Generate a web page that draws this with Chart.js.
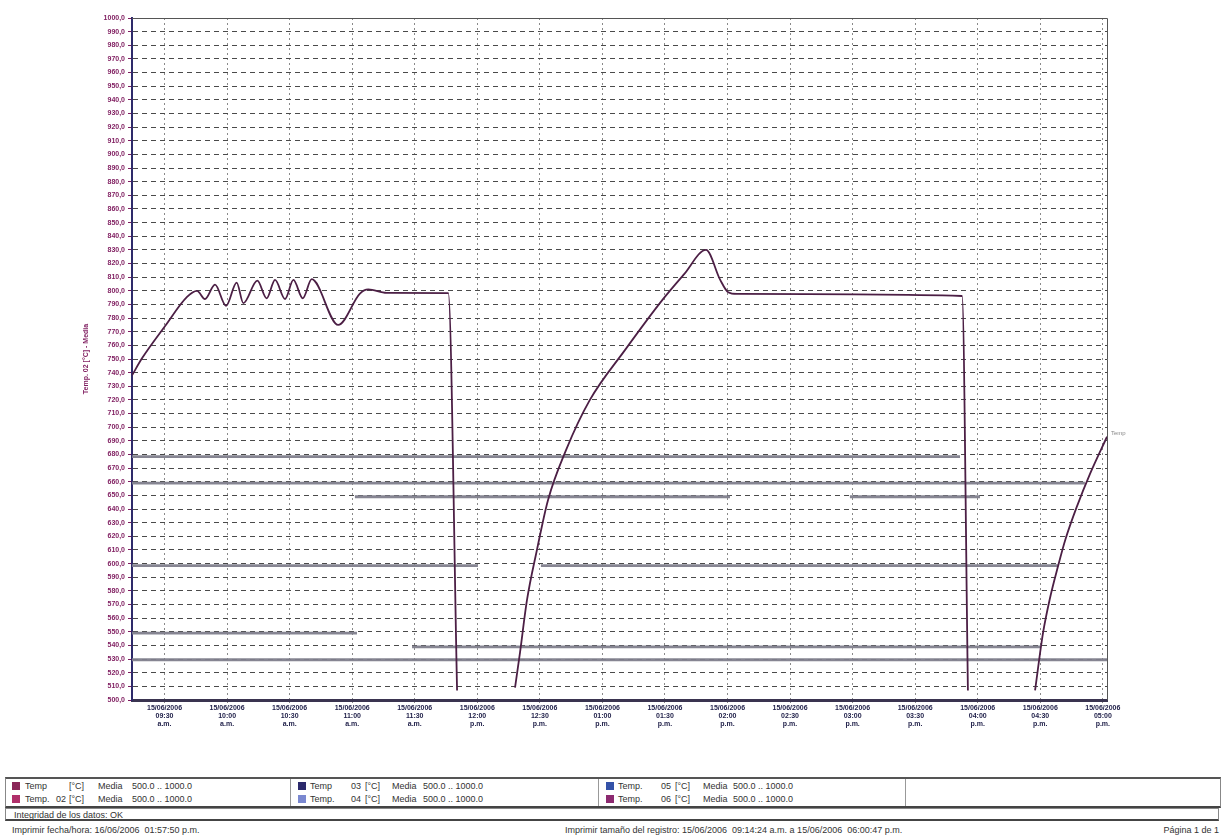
<!DOCTYPE html>
<html>
<head>
<meta charset="utf-8">
<title>Temp. 02 - Media</title>
<script src="https://cdn.jsdelivr.net/npm/chart.js@4.4.0/dist/chart.umd.min.js"></script>
<style>
body { margin: 0; background: #fff; font-family: "Liberation Sans", Arial, sans-serif; color: #333; }
#wrap { position: relative; width: 1225px; height: 839px; overflow: hidden; }
#chart { position: absolute; left: 0; top: 0; }
.box { position: absolute; left: 5px; width: 1214px; border: 1px solid #888; }
#legend { top: 777px; height: 27px; border-top: 2px solid #555; border-bottom: 2px solid #444; }
#integ { top: 808px; height: 13px; border-bottom: 2px solid #444; font-size: 9px; line-height: 13px; padding-left: 8px; box-sizing: border-box; }
.div { position: absolute; top: 0; height: 27px; border-left: 1px solid #999; }
.it { position: absolute; font-size: 9px; line-height: 12px; white-space: nowrap; }
.sq { position: absolute; width: 8px; height: 8px; }
.foot { position: absolute; top: 825px; font-size: 9px; white-space: nowrap; }
</style>
</head>
<body>
<div id="wrap">
  <canvas id="chart" width="1225" height="740"></canvas>
  <div id="legend" class="box"></div>
  <div id="integ" class="box">Integridad de los datos: OK</div>
  <div class="foot" style="left:12px">Imprimir fecha/hora: 16/06/2006&nbsp; 01:57:50 p.m.</div>
  <div class="foot" style="left:565px">Imprimir tamaño del registro: 15/06/2006&nbsp; 09:14:24 a.m. a 15/06/2006&nbsp; 06:00:47 p.m.</div>
  <div class="foot" style="right:6px">Página 1 de 1</div>
</div>

<script>
// Temp. 02 trace (time of day, °C); null = trace off the scale
const traceTimes = [
    '09:14:24', '09:19:12', '09:30:12', '09:40:48', '09:45:36', '09:49:24', '09:54:12', '09:59:30',
    '10:04:36', '10:07:48', '10:14:30', '10:19:00', '10:23:00', '10:27:48', '10:31:48', '10:36:18',
    '10:40:36', '10:53:18', '11:03:42', '11:07:42', '11:16:30', '11:46:06', '11:50:18',
    '12:00:00',
    '12:18:06', '12:20:30', '12:23:48', '12:28:36', '12:33:54', '12:42:30', '12:54:00', '13:10:48',
    '13:28:36', '13:39:06', '13:49:42', '13:56:30', '14:00:18', '14:04:36', '15:52:30', '15:55:18',
    '16:10:00',
    '16:27:30', '16:31:18', '16:34:42', '16:38:30', '16:41:54', '16:47:36', '16:53:54', '17:02:00'
];
const traceTemps = [
    738, 750.5, 774, 795.5, 800, 794, 804.5, 789,
    806, 791, 807.5, 794.5, 808, 794, 808, 794.5,
    808.5, 775, 798, 801, 798.5, 798.3, 507,
    null,
    509, 535, 573, 610, 646.5, 683, 720, 756.5,
    793, 812, 830, 808, 799, 797.7, 796.2, 507,
    null,
    507, 549, 575, 598, 617, 642, 666, 693
];

// flat grey traces of the other channels
const flatLevels = [678.5, 659, 649, 649, 598.5, 598.5, 549, 539, 529.5];
const flatFrom = ['09:14:24', '09:14:24', '11:01:18', '14:58:42', '09:14:24', '12:30:30', '09:14:24', '11:28:42', '09:14:24'];
const flatTo = ['15:51:30', '16:51:24', '14:01:12', '16:01:06', '12:00:18', '16:38:30', '11:02:18', '16:29:54', '17:02:00'];

// x axis
const axisStart = '09:14:24';
const axisEnd = '17:02:00';
const tickTimes = ['09:30', '10:00', '10:30', '11:00', '11:30', '12:00', '12:30', '13:00',
                   '13:30', '14:00', '14:30', '15:00', '15:30', '16:00', '16:30', '17:00'];
const tickClock = ['09:30', '10:00', '10:30', '11:00', '11:30', '12:00', '12:30', '01:00',
                   '01:30', '02:00', '02:30', '03:00', '03:30', '04:00', '04:30', '05:00'];
const tickPeriod = ['a.m.', 'a.m.', 'a.m.', 'a.m.', 'a.m.', 'p.m.', 'p.m.', 'p.m.',
                    'p.m.', 'p.m.', 'p.m.', 'p.m.', 'p.m.', 'p.m.', 'p.m.', 'p.m.'];
const tickDate = '15/06/2006';

// legend below the chart
const legendNames = ['Temp', 'Temp.', 'Temp', 'Temp.', 'Temp.', 'Temp.'];
const legendNums = ['', '02', '03', '04', '05', '06'];
const legendColors = ['#8a2658', '#b0306a', '#2c2a6c', '#7a88d0', '#3452a8', '#8c2a70'];


function toMin(t) {
    const p = t.split(':').map(Number);
    return p[0] * 60 + p[1] + (p[2] || 0) / 60;
}

const tracePoints = traceTimes.map((t, i) => ({x: toMin(t), y: traceTemps[i]}));

const datasets = [];
flatLevels.forEach((lvl, i) => {
    datasets.push({
        label: 'canal ' + i,
        data: [{x: toMin(flatFrom[i]), y: lvl}, {x: toMin(flatTo[i]), y: lvl}],
        borderColor: 'rgba(128, 126, 140, 0.95)',
        borderWidth: 2.8,
        pointRadius: 0,
        tension: 0,
        order: 2
    });
});
datasets.push({
    label: 'Temp. 02',
    data: tracePoints,
    borderColor: '#4c1f45',
    borderWidth: 1.8,
    pointRadius: 0,
    cubicInterpolationMode: 'monotone',
    spanGaps: false,
    order: 1
});

// top + right frame of the plot
const framePlugin = {
    id: 'frame',
    beforeDatasetsDraw(chart) {
        const {ctx, chartArea: a} = chart;
        ctx.save();
        ctx.strokeStyle = '#555';
        ctx.lineWidth = 1;
        ctx.beginPath();
        ctx.moveTo(a.left, a.top + 0.5);
        ctx.lineTo(a.right + 0.5, a.top + 0.5);
        ctx.lineTo(a.right + 0.5, a.bottom);
        ctx.stroke();
        ctx.restore();
    },
    afterDatasetsDraw(chart) {
        // small tag at the end of the trace
        const meta = chart.getDatasetMeta(chart.data.datasets.length - 1);
        const last = meta.data[meta.data.length - 1];
        const ctx = chart.ctx;
        ctx.save();
        ctx.fillStyle = '#888';
        ctx.font = '6px "Liberation Sans"';
        ctx.fillText('Temp', last.x + 4, last.y - 2);
        ctx.restore();
    }
};

new Chart(document.getElementById('chart'), {
    type: 'line',
    data: {datasets: datasets},
    options: {
        responsive: false,
        animation: false,
        devicePixelRatio: 1,
        layout: {padding: {left: 80, top: 18, right: 118, bottom: 0}},
        plugins: {legend: {display: false}, tooltip: {enabled: false}},
        scales: {
            x: {
                type: 'linear',
                min: toMin(axisStart),
                max: toMin(axisEnd),
                afterBuildTicks: scale => {
                    scale.ticks = tickTimes.map(t => ({value: toMin(t)}));
                },
                afterFit: scale => { scale.height = 40; },
                ticks: {
                    autoSkip: false,
                    maxRotation: 0,
                    padding: 1,
                    color: '#23234c',
                    font: {family: 'Liberation Sans', size: 7, weight: 'bold', lineHeight: 1.15},
                    callback: (v, i) => [tickDate, tickClock[i], tickPeriod[i]]
                },
                grid: {color: '#8a8a8a', lineWidth: 1, tickLength: 3, tickColor: '#888', tickBorderDash: []},
                border: {color: '#3a3450', width: 3, dash: [2, 3]}
            },
            y: {
                min: 500,
                max: 1000,
                afterFit: scale => { scale.width = 52; },
                ticks: {
                    stepSize: 10,
                    autoSkip: false,
                    padding: 3,
                    color: '#7e1b5e',
                    font: {family: 'Liberation Sans', size: 7, weight: 'bold'},
                    callback: v => v.toFixed(1).replace('.', ',')
                },
                title: {
                    display: true,
                    text: 'Temp. 02 [°C] - Media',
                    color: '#7e1b5e',
                    font: {family: 'Liberation Sans', size: 7, weight: 'bold'},
                    padding: 2
                },
                grid: {color: '#4a4a4a', lineWidth: 1, tickLength: 4, tickColor: '#7e1b5e', tickBorderDash: []},
                border: {color: '#2e2a6a', width: 2, dash: [5, 4]}
            }
        }
    },
    plugins: [framePlugin]
});

// legend rows: column start and text offsets per column
const legend = document.getElementById('legend');
const colLeft = [6, 292, 600];
const colOffsets = [
    [13, 44, 57, 86, 120],
    [12, 53, 67, 94, 125],
    [12, 55, 69, 97, 127]
];
legendNames.forEach((name, i) => {
    const col = Math.floor(i / 2), row = i % 2;
    const x = colLeft[col], y = 1 + row * 13;
    const off = colOffsets[col];
    const sq = document.createElement('div');
    sq.className = 'sq';
    sq.style.left = x + 'px';
    sq.style.top = (y + 2) + 'px';
    sq.style.background = legendColors[i];
    legend.appendChild(sq);
    [name, legendNums[i], '[°C]', 'Media', '500.0 .. 1000.0'].forEach((txt, k) => {
        if (!txt) return;
        const s = document.createElement('div');
        s.className = 'it';
        s.textContent = txt;
        s.style.left = (x + off[k]) + 'px';
        s.style.top = y + 'px';
        legend.appendChild(s);
    });
});
[284, 592, 899].forEach(x => {
    const d = document.createElement('div');
    d.className = 'div';
    d.style.left = x + 'px';
    legend.appendChild(d);
});
</script>
</body>
</html>
